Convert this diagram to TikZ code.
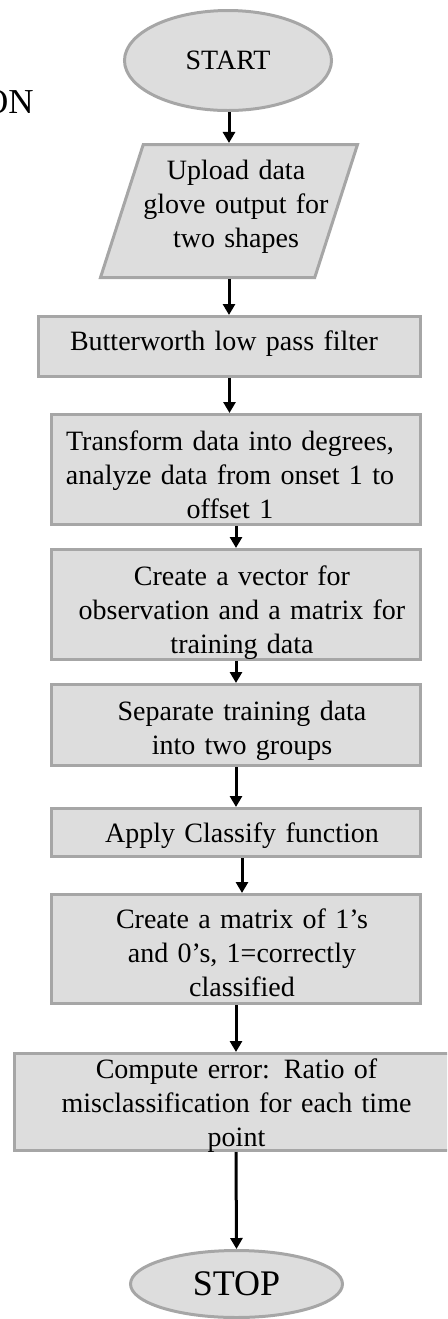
\documentclass[tikz,border=0pt]{standalone}
\usepackage{fontspec}
\setmainfont{Liberation Serif}
\usetikzlibrary{shapes.geometric,arrows.meta}
\definecolor{boxfill}{RGB}{221,221,221}
\definecolor{boxline}{RGB}{166,166,166}
\tikzset{
  stepbox/.style={draw=boxline, fill=boxfill, line width=1.5pt, rectangle, inner sep=0pt},
  termbox/.style={draw=boxline, fill=boxfill, line width=1.5pt, ellipse, inner sep=0pt},
  iobox/.style={draw=boxline, fill=boxfill, line width=1.5pt, trapezium, trapezium left angle=76, trapezium right angle=104, trapezium stretches=true, inner sep=0pt},
  txt/.style={anchor=base, inner sep=0pt, text width=215pt, align=center, font=\fontsize{14}{17.2}\selectfont},
  arr/.style={draw=black, line width=1.5pt, -{Triangle[width=6pt,length=5.5pt]}}
}
\begin{document}
\begin{tikzpicture}[x=0.5pt,y=-0.5pt]
\useasboundingbox (0,0) rectangle (447,1319);
\clip (0,0) rectangle (447,1319);
% side text
\node[anchor=base east, inner sep=0pt, font=\fontsize{17.5}{20}\selectfont] (on) at (34,113) {ON};
% shapes
\node[termbox, minimum width=103.5pt, minimum height=50pt, font=\fontsize{14}{17}\selectfont] (start) at (228,60.5) {START};
\node[iobox, minimum width=128.5pt, minimum height=66.5pt] (para) at (229,211) {\phantom{\rule{4pt}{4pt}}};
\node[stepbox, minimum width=191pt, minimum height=30pt] (butter) at (229.5,346.5) {};
\node[stepbox, minimum width=184.5pt, minimum height=55pt] (transform) at (236,469.5) {};
\node[stepbox, minimum width=184.5pt, minimum height=55pt] (vector) at (236,604.5) {};
\node[stepbox, minimum width=184.5pt, minimum height=40.5pt] (separate) at (236,725) {};
\node[stepbox, minimum width=184.5pt, minimum height=24pt] (apply) at (236,832.5) {};
\node[stepbox, minimum width=184.5pt, minimum height=54.5pt] (cmatrix) at (236,949) {};
\node[stepbox, minimum width=221.5pt, minimum height=48.5pt] (compute) at (236,1102) {};
\node[termbox, minimum width=106pt, minimum height=33.5pt, font=\fontsize{18}{20}\selectfont] (stop) at (236.5,1284) {STOP};
% texts
\node[txt] (tpara) at (236,179) {Upload data\\glove output for\\two shapes};
\node[txt] (tbutter) at (224,350.5) {Butterworth low pass filter};
\node[txt] (ttransform) at (230,450) {Transform data into degrees,\\analyze data from onset 1 to\\offset 1};
\node[txt] (tvector) at (242,585) {Create a vector for\\observation and a matrix for\\training data};
\node[txt] (tseparate) at (242,720) {Separate training data\\into two groups};
\node[txt] (tapply) at (242,842) {Apply Classify function};
\node[txt] (tcmatrix) at (242,928) {Create a matrix of 1’s\\and 0’s, 1=correctly\\classified};
\node[txt] (tcompute) at (236.5,1078) {Compute error: Ratio of\\misclassification for each time\\point};
% connectors
\draw[arr] (para.north |- start.south) -- (para.north);
\draw[arr] (para.south) -- (para.south |- butter.north);
\draw[arr] (butter.south) -- (butter.south |- transform.north);
\draw[arr] (transform.south) -- (vector.north);
\draw[arr] (vector.south) -- (separate.north);
\draw[arr] (separate.south) -- (apply.north);
\draw[arr] ([xshift=3pt]apply.south) -- ([xshift=3pt]cmatrix.north);
\draw[arr] (cmatrix.south) -- (compute.north);
\draw[arr] (compute.south) -- (stop.north);
\end{tikzpicture}
\end{document}
